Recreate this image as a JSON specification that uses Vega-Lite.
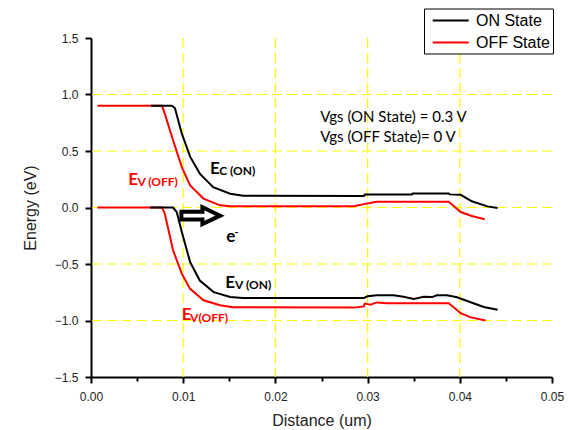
{
  "$schema": "https://vega.github.io/schema/vega-lite/v6.json",
  "width": 461,
  "height": 339,
  "autosize": {"type": "none"},
  "padding": {"left": 91, "top": 38, "right": 16, "bottom": 53},
  "background": "white",
  "config": {"view": {"stroke": null}, "font": "Liberation Sans"},
  "datasets": {
    "gridx": [{"x": 0.01}, {"x": 0.02}, {"x": 0.03}, {"x": 0.04}],
    "gridy": [{"y": -1.0}, {"y": -0.5}, {"y": 0.0}, {"y": 0.5}, {"y": 1.0}],
    "bands": [
      {"state": "OFF State", "band": "Ec", "x": 0.0007, "y": 0.9},
      {"state": "OFF State", "band": "Ec", "x": 0.0077, "y": 0.9},
      {"state": "OFF State", "band": "Ec", "x": 0.008, "y": 0.831},
      {"state": "OFF State", "band": "Ec", "x": 0.0089, "y": 0.595},
      {"state": "OFF State", "band": "Ec", "x": 0.00985, "y": 0.358},
      {"state": "OFF State", "band": "Ec", "x": 0.01075, "y": 0.196},
      {"state": "OFF State", "band": "Ec", "x": 0.0122, "y": 0.079},
      {"state": "OFF State", "band": "Ec", "x": 0.014, "y": 0.019},
      {"state": "OFF State", "band": "Ec", "x": 0.0151, "y": 0.011},
      {"state": "OFF State", "band": "Ec", "x": 0.0285, "y": 0.012},
      {"state": "OFF State", "band": "Ec", "x": 0.0296, "y": 0.03},
      {"state": "OFF State", "band": "Ec", "x": 0.031, "y": 0.05},
      {"state": "OFF State", "band": "Ec", "x": 0.0388, "y": 0.05},
      {"state": "OFF State", "band": "Ec", "x": 0.0401, "y": -0.04},
      {"state": "OFF State", "band": "Ec", "x": 0.0413, "y": -0.075},
      {"state": "OFF State", "band": "Ec", "x": 0.0427, "y": -0.104},
      {"state": "OFF State", "band": "Ev", "x": 0.0007, "y": 0.0},
      {"state": "OFF State", "band": "Ev", "x": 0.0077, "y": 0.0},
      {"state": "OFF State", "band": "Ev", "x": 0.008, "y": -0.054},
      {"state": "OFF State", "band": "Ev", "x": 0.0089, "y": -0.379},
      {"state": "OFF State", "band": "Ev", "x": 0.00985, "y": -0.586},
      {"state": "OFF State", "band": "Ev", "x": 0.01075, "y": -0.72},
      {"state": "OFF State", "band": "Ev", "x": 0.0122, "y": -0.821},
      {"state": "OFF State", "band": "Ev", "x": 0.014, "y": -0.865},
      {"state": "OFF State", "band": "Ev", "x": 0.0154, "y": -0.882},
      {"state": "OFF State", "band": "Ev", "x": 0.0285, "y": -0.886},
      {"state": "OFF State", "band": "Ev", "x": 0.0296, "y": -0.875},
      {"state": "OFF State", "band": "Ev", "x": 0.0297, "y": -0.85},
      {"state": "OFF State", "band": "Ev", "x": 0.0303, "y": -0.86},
      {"state": "OFF State", "band": "Ev", "x": 0.031, "y": -0.84},
      {"state": "OFF State", "band": "Ev", "x": 0.0321, "y": -0.848},
      {"state": "OFF State", "band": "Ev", "x": 0.0388, "y": -0.848},
      {"state": "OFF State", "band": "Ev", "x": 0.0401, "y": -0.935},
      {"state": "OFF State", "band": "Ev", "x": 0.0411, "y": -0.97},
      {"state": "OFF State", "band": "Ev", "x": 0.0428, "y": -1.0},
      {"state": "ON State", "band": "Ec", "x": 0.0065, "y": 0.9},
      {"state": "ON State", "band": "Ec", "x": 0.00876, "y": 0.9},
      {"state": "ON State", "band": "Ec", "x": 0.0091, "y": 0.88},
      {"state": "ON State", "band": "Ec", "x": 0.00985, "y": 0.654},
      {"state": "ON State", "band": "Ec", "x": 0.01075, "y": 0.45},
      {"state": "ON State", "band": "Ec", "x": 0.0118, "y": 0.3},
      {"state": "ON State", "band": "Ec", "x": 0.01325, "y": 0.18},
      {"state": "ON State", "band": "Ec", "x": 0.0151, "y": 0.122},
      {"state": "ON State", "band": "Ec", "x": 0.0165, "y": 0.104},
      {"state": "ON State", "band": "Ec", "x": 0.0296, "y": 0.102},
      {"state": "ON State", "band": "Ec", "x": 0.0297, "y": 0.114},
      {"state": "ON State", "band": "Ec", "x": 0.0348, "y": 0.114},
      {"state": "ON State", "band": "Ec", "x": 0.0349, "y": 0.125},
      {"state": "ON State", "band": "Ec", "x": 0.0388, "y": 0.125},
      {"state": "ON State", "band": "Ec", "x": 0.0389, "y": 0.116},
      {"state": "ON State", "band": "Ec", "x": 0.0401, "y": 0.112},
      {"state": "ON State", "band": "Ec", "x": 0.0413, "y": 0.055},
      {"state": "ON State", "band": "Ec", "x": 0.043, "y": 0.01},
      {"state": "ON State", "band": "Ec", "x": 0.0441, "y": -0.005},
      {"state": "ON State", "band": "Ev", "x": 0.0064, "y": 0.0},
      {"state": "ON State", "band": "Ev", "x": 0.0089, "y": 0.0},
      {"state": "ON State", "band": "Ev", "x": 0.0093, "y": -0.04},
      {"state": "ON State", "band": "Ev", "x": 0.00985, "y": -0.217},
      {"state": "ON State", "band": "Ev", "x": 0.01075, "y": -0.483},
      {"state": "ON State", "band": "Ev", "x": 0.0118, "y": -0.646},
      {"state": "ON State", "band": "Ev", "x": 0.0133, "y": -0.749},
      {"state": "ON State", "band": "Ev", "x": 0.0151, "y": -0.792},
      {"state": "ON State", "band": "Ev", "x": 0.0165, "y": -0.8},
      {"state": "ON State", "band": "Ev", "x": 0.0296, "y": -0.8},
      {"state": "ON State", "band": "Ev", "x": 0.03, "y": -0.786},
      {"state": "ON State", "band": "Ev", "x": 0.031, "y": -0.777},
      {"state": "ON State", "band": "Ev", "x": 0.0328, "y": -0.777},
      {"state": "ON State", "band": "Ev", "x": 0.0339, "y": -0.79},
      {"state": "ON State", "band": "Ev", "x": 0.035, "y": -0.81},
      {"state": "ON State", "band": "Ev", "x": 0.0361, "y": -0.79},
      {"state": "ON State", "band": "Ev", "x": 0.037, "y": -0.793},
      {"state": "ON State", "band": "Ev", "x": 0.0375, "y": -0.777},
      {"state": "ON State", "band": "Ev", "x": 0.0386, "y": -0.777},
      {"state": "ON State", "band": "Ev", "x": 0.0397, "y": -0.795},
      {"state": "ON State", "band": "Ev", "x": 0.0411, "y": -0.836},
      {"state": "ON State", "band": "Ev", "x": 0.0426, "y": -0.88},
      {"state": "ON State", "band": "Ev", "x": 0.0441, "y": -0.905}
    ],
    "labels": [
      {"text": "E", "part": "main", "state": "ON", "x": 0.01292, "y": 0.3},
      {"text": "C (ON)", "part": "sub", "state": "ON", "x": 0.0139, "y": 0.285},
      {"text": "E", "part": "main", "state": "OFF", "x": 0.00405, "y": 0.196},
      {"text": "V (OFF)", "part": "sub", "state": "OFF", "x": 0.00503, "y": 0.19},
      {"text": "e", "part": "main", "state": "ON", "x": 0.01466, "y": -0.305},
      {"text": "-", "part": "sup", "state": "ON", "x": 0.01556, "y": -0.25},
      {"text": "E", "part": "main", "state": "ON", "x": 0.01455, "y": -0.712},
      {"text": "V (ON)", "part": "sub", "state": "ON", "x": 0.01563, "y": -0.718},
      {"text": "E", "part": "main", "state": "OFF", "x": 0.00985, "y": -0.998},
      {"text": "V(OFF)", "part": "sub", "state": "OFF", "x": 0.01075, "y": -1.013}
    ],
    "notes": [
      {"text": "Vgs (ON State) = 0.3 V", "x": 0.02486, "y": 0.757},
      {"text": "Vgs (OFF State)= 0 V", "x": 0.02486, "y": 0.58}
    ],
    "arrow": [
      {"x": 0.0119, "y": -0.072}
    ]
  },
  "layer": [
    {
      "data": {"name": "gridx"},
      "mark": {"type": "rule", "color": "#ffff00", "strokeWidth": 1.2, "strokeDash": [10, 5]},
      "encoding": {
        "x": {
          "field": "x", "type": "quantitative",
          "scale": {"domain": [0, 0.05], "nice": false, "zero": false},
          "axis": {
            "title": "Distance (um)",
            "values": [0, 0.005, 0.01, 0.015, 0.02, 0.025, 0.03, 0.035, 0.04, 0.045, 0.05],
            "labelExpr": "abs(datum.value*100 - round(datum.value*100)) < 0.001 ? format(datum.value, '.2f') : ''",
            "labelFlush": false, "labelOverlap": false, "grid": false,
            "tickSize": {"condition": {"test": "abs(datum.value*100 - round(datum.value*100)) < 0.001", "value": 6}, "value": 4},
            "domainColor": "black", "domainWidth": 2, "tickColor": "black", "tickWidth": 2,
            "labelFontSize": 12, "labelColor": "#222", "labelPadding": 8,
            "titleFontSize": 16, "titleFontWeight": "normal", "titleColor": "#222", "titlePadding": 10
          }
        }
      }
    },
    {
      "data": {"name": "gridy"},
      "mark": {"type": "rule", "color": "#ffff00", "strokeWidth": 1.2, "strokeDash": [10, 5]},
      "encoding": {
        "y": {
          "field": "y", "type": "quantitative",
          "scale": {"domain": [-1.5, 1.5], "nice": false, "zero": false},
          "axis": {
            "title": "Energy (eV)",
            "values": [-1.5, -1.25, -1, -0.75, -0.5, -0.25, 0, 0.25, 0.5, 0.75, 1, 1.25, 1.5],
            "labelExpr": "abs(datum.value*2 - round(datum.value*2)) < 0.001 ? format(datum.value, '.1f') : ''",
            "labelFlush": false, "labelOverlap": false, "grid": false,
            "tickSize": {"condition": {"test": "abs(datum.value*2 - round(datum.value*2)) < 0.001", "value": 6}, "value": 4},
            "domainColor": "black", "domainWidth": 2, "tickColor": "black", "tickWidth": 2,
            "labelFontSize": 12, "labelColor": "#222", "labelPadding": 7,
            "titleFontSize": 16, "titleFontWeight": "normal", "titleColor": "#222", "titlePadding": 16
          }
        }
      }
    },
    {
      "data": {"name": "bands"},
      "transform": [{"filter": "datum.state === 'OFF State'"}],
      "mark": {"type": "line", "strokeWidth": 2},
      "encoding": {
        "x": {"field": "x", "type": "quantitative", "scale": {"domain": [0, 0.05], "nice": false, "zero": false}},
        "y": {"field": "y", "type": "quantitative", "scale": {"domain": [-1.5, 1.5], "nice": false, "zero": false}},
        "color": {
          "field": "state", "type": "nominal",
          "scale": {"domain": ["ON State", "OFF State"], "range": ["#000000", "#ff0000"]},
          "legend": {"orient": "none", "legendX": 333, "legendY": -29.5, "title": null, "symbolType": "M-2.25,0L2.25,0", "symbolStrokeWidth": 2, "symbolSize": 256, "symbolOffset": 14.7, "labelFontSize": 16, "labelFont": "Liberation Sans", "labelColor": "black", "strokeColor": "black", "fillColor": "white", "padding": 3, "labelOffset": 16.3, "rowPadding": 5}
        },
        "detail": {"field": "band"}
      }
    },
    {
      "data": {"name": "bands"},
      "transform": [{"filter": "datum.state === 'ON State'"}],
      "mark": {"type": "line", "strokeWidth": 2},
      "encoding": {
        "x": {"field": "x", "type": "quantitative", "scale": {"domain": [0, 0.05], "nice": false, "zero": false}},
        "y": {"field": "y", "type": "quantitative", "scale": {"domain": [-1.5, 1.5], "nice": false, "zero": false}},
        "color": {
          "field": "state", "type": "nominal",
          "scale": {"domain": ["ON State", "OFF State"], "range": ["#000000", "#ff0000"]},
          "legend": {"orient": "none", "legendX": 333, "legendY": -29.5, "title": null, "symbolType": "M-2.25,0L2.25,0", "symbolStrokeWidth": 2, "symbolSize": 256, "symbolOffset": 14.7, "labelFontSize": 16, "labelFont": "Liberation Sans", "labelColor": "black", "strokeColor": "black", "fillColor": "white", "padding": 3, "labelOffset": 16.3, "rowPadding": 5}
        },
        "detail": {"field": "band"}
      }
    },
    {
      "data": {"name": "arrow"},
      "mark": {"type": "point", "shape": "M-0.92,-0.18L0.08,-0.18L0.08,-0.4L0.92,0L0.08,0.4L0.08,0.18L-0.92,0.18Z", "size": 1764, "filled": false, "fill": "white", "fillOpacity": 1, "stroke": "black", "strokeWidth": 4, "strokeJoin": "miter", "opacity": 1},
      "encoding": {
        "x": {"field": "x", "type": "quantitative"},
        "y": {"field": "y", "type": "quantitative"}
      }
    },
    {
      "data": {"name": "labels"},
      "transform": [{"filter": "datum.part === 'main' && datum.state === 'ON'"}],
      "mark": {"type": "text", "align": "left", "baseline": "alphabetic", "font": "Lato", "fontWeight": "bold", "fontSize": 17, "color": "black"},
      "encoding": {"x": {"field": "x", "type": "quantitative"}, "y": {"field": "y", "type": "quantitative"}, "text": {"field": "text"}}
    },
    {
      "data": {"name": "labels"},
      "transform": [{"filter": "datum.part === 'main' && datum.state === 'OFF'"}],
      "mark": {"type": "text", "align": "left", "baseline": "alphabetic", "font": "Lato", "fontWeight": "bold", "fontSize": 17, "color": "#ff0000"},
      "encoding": {"x": {"field": "x", "type": "quantitative"}, "y": {"field": "y", "type": "quantitative"}, "text": {"field": "text"}}
    },
    {
      "data": {"name": "labels"},
      "transform": [{"filter": "datum.part === 'sub' && datum.state === 'ON'"}],
      "mark": {"type": "text", "align": "left", "baseline": "alphabetic", "font": "Lato", "fontWeight": "bold", "fontSize": 12, "color": "black"},
      "encoding": {"x": {"field": "x", "type": "quantitative"}, "y": {"field": "y", "type": "quantitative"}, "text": {"field": "text"}}
    },
    {
      "data": {"name": "labels"},
      "transform": [{"filter": "datum.part === 'sub' && datum.state === 'OFF'"}],
      "mark": {"type": "text", "align": "left", "baseline": "alphabetic", "font": "Lato", "fontWeight": "bold", "fontSize": 12, "color": "#ff0000"},
      "encoding": {"x": {"field": "x", "type": "quantitative"}, "y": {"field": "y", "type": "quantitative"}, "text": {"field": "text"}}
    },
    {
      "data": {"name": "labels"},
      "transform": [{"filter": "datum.part === 'sup'"}],
      "mark": {"type": "text", "align": "left", "baseline": "alphabetic", "font": "Lato", "fontWeight": "bold", "fontSize": 11, "color": "black"},
      "encoding": {"x": {"field": "x", "type": "quantitative"}, "y": {"field": "y", "type": "quantitative"}, "text": {"field": "text"}}
    },
    {
      "data": {"name": "notes"},
      "mark": {"type": "text", "align": "left", "baseline": "alphabetic", "font": "Lato", "fontSize": 15, "color": "black"},
      "encoding": {"x": {"field": "x", "type": "quantitative"}, "y": {"field": "y", "type": "quantitative"}, "text": {"field": "text"}}
    }
  ]
}
